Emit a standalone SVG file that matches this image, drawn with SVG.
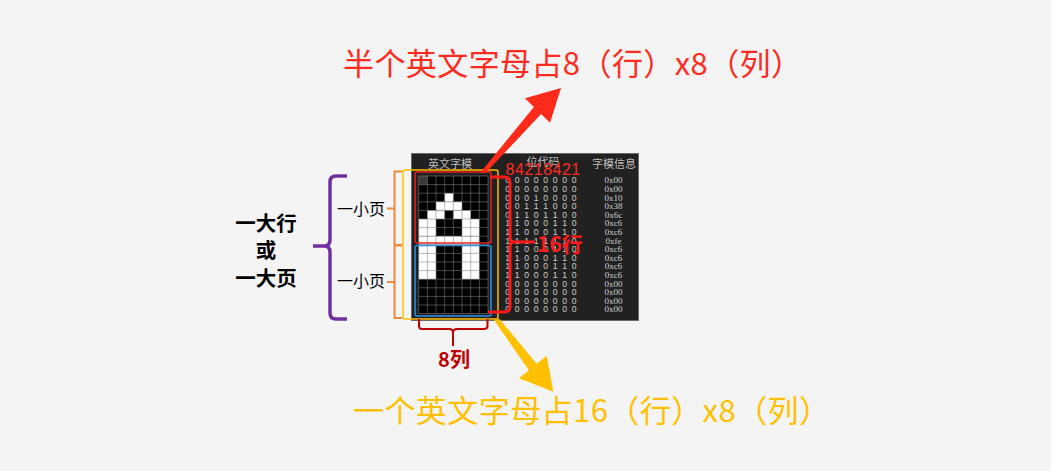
<svg xmlns="http://www.w3.org/2000/svg" width="1051" height="471" viewBox="0 0 1051 471">
<defs>
<style>
.cjk{font-family:"Noto Sans CJK SC","Noto Sans",sans-serif}
.bit{font-family:"Liberation Sans",sans-serif;font-size:8.6px;fill:#cfcfcf;text-anchor:middle}
.hex{font-family:"Liberation Serif",serif;font-size:9px;fill:#cfcfcf;text-anchor:middle}
.hdr{font-family:"Noto Sans CJK SC",sans-serif;font-size:11px;fill:#bdbdbd;text-anchor:middle}
.cell{fill:#ffffff}
.brace{fill:none;stroke-linecap:butt;stroke-linejoin:round}
</style>
</defs>
<rect x="0" y="0" width="1051" height="471" fill="#f4f4f4"/>

<g id="title-top">
<text class="cjk" x="343" y="74.5" font-size="31" fill="#ff2a20" textLength="459" lengthAdjust="spacing">半个英文字母占8（行）x8（列）</text>
</g>
<g id="title-bottom">
<text class="cjk" x="353" y="422" font-size="31" fill="#ffc000" textLength="477" lengthAdjust="spacing">一个英文字母占16（行）x8（列）</text>
</g>

<g id="panel">
<rect x="411.5" y="153.5" width="227" height="167" fill="#212121" stroke="#6a6a6a" stroke-width="1"/>
<text class="hdr" x="450" y="168">英文字模</text>
<text class="hdr" x="543" y="166">位代码</text>
<text class="hdr" x="614" y="168">字模信息</text>
</g>

<g id="glyph-grid">
<rect x="418.7" y="176" width="69.3" height="137.6" fill="#000"/>
<rect x="418.7" y="176" width="8.66" height="8.6" fill="#3a3a3a"/>
<rect class="cell" x="444.68" y="193.2" width="8.66" height="8.6"/>
<rect class="cell" x="436.02" y="201.8" width="25.98" height="8.6"/>
<rect class="cell" x="427.36" y="210.4" width="17.32" height="8.6"/>
<rect class="cell" x="453.34" y="210.4" width="17.32" height="8.6"/>
<rect class="cell" x="418.7" y="219" width="17.32" height="17.2"/>
<rect class="cell" x="462" y="219" width="17.32" height="17.2"/>
<rect class="cell" x="418.7" y="236.2" width="60.62" height="8.6"/>
<rect class="cell" x="418.7" y="244.8" width="17.32" height="34.4"/>
<rect class="cell" x="462" y="244.8" width="17.32" height="34.4"/>
<path fill="none" stroke="#808080" stroke-opacity="0.55" stroke-width="1" d="M418.7 176V313.6M427.36 176V313.6M436.02 176V313.6M444.68 176V313.6M453.34 176V313.6M462 176V313.6M470.66 176V313.6M479.32 176V313.6M487.98 176V313.6M418.7 176H488M418.7 184.6H488M418.7 193.2H488M418.7 201.8H488M418.7 210.4H488M418.7 219H488M418.7 227.6H488M418.7 236.2H488M418.7 244.8H488M418.7 253.4H488M418.7 262H488M418.7 270.6H488M418.7 279.2H488M418.7 287.8H488M418.7 296.4H488M418.7 305H488M418.7 313.6H488"/>
</g>

<g id="bit-table">
<text class="bit" x="507.7 517.2 526.7 536.2 545.7 555.2 564.7 574.2" y="183.4">00000000</text>
<text class="bit" x="507.7 517.2 526.7 536.2 545.7 555.2 564.7 574.2" y="192">00000000</text>
<text class="bit" x="507.7 517.2 526.7 536.2 545.7 555.2 564.7 574.2" y="200.6">00010000</text>
<text class="bit" x="507.7 517.2 526.7 536.2 545.7 555.2 564.7 574.2" y="209.2">00111000</text>
<text class="bit" x="507.7 517.2 526.7 536.2 545.7 555.2 564.7 574.2" y="217.8">01101100</text>
<text class="bit" x="507.7 517.2 526.7 536.2 545.7 555.2 564.7 574.2" y="226.4">11000110</text>
<text class="bit" x="507.7 517.2 526.7 536.2 545.7 555.2 564.7 574.2" y="235">11000110</text>
<text class="bit" x="507.7 517.2 526.7 536.2 545.7 555.2 564.7 574.2" y="243.6">11111110</text>
<text class="bit" x="507.7 517.2 526.7 536.2 545.7 555.2 564.7 574.2" y="252.2">11000110</text>
<text class="bit" x="507.7 517.2 526.7 536.2 545.7 555.2 564.7 574.2" y="260.8">11000110</text>
<text class="bit" x="507.7 517.2 526.7 536.2 545.7 555.2 564.7 574.2" y="269.4">11000110</text>
<text class="bit" x="507.7 517.2 526.7 536.2 545.7 555.2 564.7 574.2" y="278">11000110</text>
<text class="bit" x="507.7 517.2 526.7 536.2 545.7 555.2 564.7 574.2" y="286.6">00000000</text>
<text class="bit" x="507.7 517.2 526.7 536.2 545.7 555.2 564.7 574.2" y="295.2">00000000</text>
<text class="bit" x="507.7 517.2 526.7 536.2 545.7 555.2 564.7 574.2" y="303.8">00000000</text>
<text class="bit" x="507.7 517.2 526.7 536.2 545.7 555.2 564.7 574.2" y="312.4">00000000</text>
</g>

<g id="hex-table">
<text class="hex" x="613.5" y="183.4">0x00</text>
<text class="hex" x="613.5" y="192">0x00</text>
<text class="hex" x="613.5" y="200.6">0x10</text>
<text class="hex" x="613.5" y="209.2">0x38</text>
<text class="hex" x="613.5" y="217.8">0x6c</text>
<text class="hex" x="613.5" y="226.4">0xc6</text>
<text class="hex" x="613.5" y="235">0xc6</text>
<text class="hex" x="613.5" y="243.6">0xfe</text>
<text class="hex" x="613.5" y="252.2">0xc6</text>
<text class="hex" x="613.5" y="260.8">0xc6</text>
<text class="hex" x="613.5" y="269.4">0xc6</text>
<text class="hex" x="613.5" y="278">0xc6</text>
<text class="hex" x="613.5" y="286.6">0x00</text>
<text class="hex" x="613.5" y="295.2">0x00</text>
<text class="hex" x="613.5" y="303.8">0x00</text>
<text class="hex" x="613.5" y="312.4">0x00</text>
</g>

<g id="weights">
<text x="510 519.4 528.8 538.2 547.6 557 566.4 575.8" y="175" font-family="Liberation Sans, sans-serif" font-size="16" fill="#ff2a20" text-anchor="middle">84218421</text>
</g>

<g id="frames">
<rect x="403" y="170" width="95" height="149" rx="2" fill="none" stroke="#ffc000" stroke-width="1.5"/>
<rect x="415" y="172" width="76" height="71" rx="2" fill="none" stroke="#e82020" stroke-width="1.5"/>
<rect x="415" y="245.5" width="76" height="70.5" rx="2" fill="none" stroke="#2e8fe6" stroke-width="1.5"/>
</g>

<g id="connectors">
<path class="brace" stroke="#7030a0" stroke-width="3.5" d="M347 176H336Q330 176 330 182V240Q330 246 324 246H313M324 246Q330 246 330 252V313Q330 319 336 319H347"/>
<path class="brace" stroke="#f0883c" stroke-width="2" d="M402 171.5H394.5V245H402M394.5 208.5H387M402 245.5H394.5V318H402M394.5 282H387"/>
<path class="brace" stroke="#ff1a1a" stroke-width="3" d="M490 177H504Q510 177 510 183V238Q510 242 514 242H535M514 242Q510 242 510 246V306Q510 312 504 312H488"/>
<path class="brace" stroke="#c00000" stroke-width="2" d="M419 319V326Q419 329 422 329H449Q453 329 453 333V346M453 333Q453 329 457 329H484Q487.5 329 487.5 326V319"/>
<polygon fill="#ff2a1a" points="480,173 533.9,107 525,98.3 561,88 550,122.7 541.1,114 486,172.5"/>
<polygon fill="#ffc000" points="494,320 528.9,370.2 519,378.3 553.3,391.7 546.7,355.7 536.7,363.8 499.5,319"/>
</g>

<g id="labels">
<text class="cjk" x="266" y="230.5" font-size="20.5" font-weight="bold" fill="#000" text-anchor="middle">一大行</text>
<text class="cjk" x="266" y="258" font-size="20.5" font-weight="bold" fill="#000" text-anchor="middle">或</text>
<text class="cjk" x="266" y="285.5" font-size="20.5" font-weight="bold" fill="#000" text-anchor="middle">一大页</text>
<text class="cjk" x="361" y="214.5" font-size="16" fill="#000" text-anchor="middle">一小页</text>
<text class="cjk" x="361" y="287" font-size="16" fill="#000" text-anchor="middle">一小页</text>
<text class="cjk" x="537" y="252" font-size="21" font-weight="bold" fill="#ff1a1a">16行</text>
<text class="cjk" x="454" y="367" font-size="20" font-weight="bold" fill="#c00000" text-anchor="middle">8列</text>
</g>
</svg>
